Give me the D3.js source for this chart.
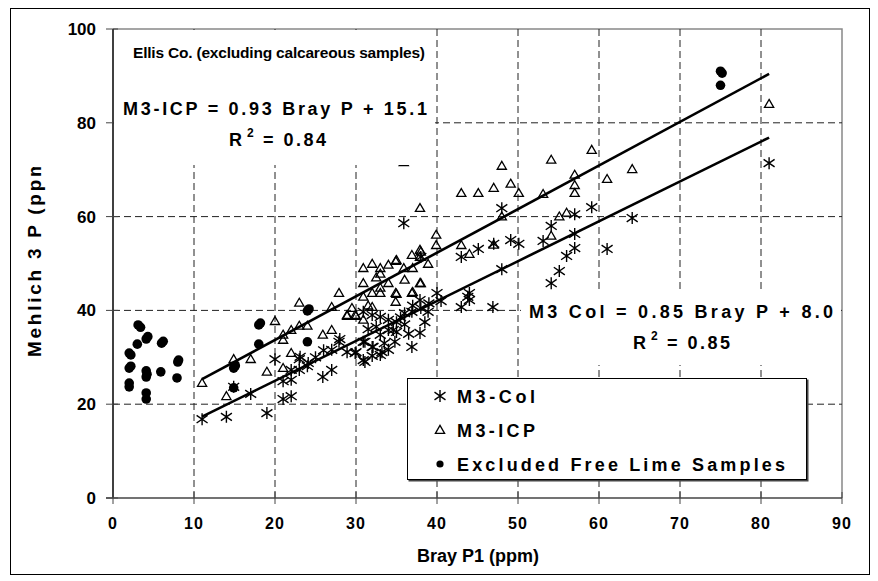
<!DOCTYPE html>
<html>
<head>
<meta charset="utf-8">
<script src="https://cdn.jsdelivr.net/npm/d3@7"></script>
<style>
  body { margin: 0; background: #fff; }
  svg text { font-family: "Liberation Sans", Arial, sans-serif; font-weight: bold; fill: #000; }
</style>
</head>
<body>
<svg id="chart" width="878" height="581"></svg>
<script>
// M3-Col (Bray P1, Mehlich 3 P)
const colBray = [11.0, 14.0, 19.0, 14.9, 17.0, 21.0, 22.0, 21.0, 20.0, 23.0, 24.0, 23.0, 22.0, 25.9, 27.0,
  27.9, 27.0, 28.9, 30.0, 30.9, 32.0, 33.0, 34.0, 32.0, 30.9, 33.0, 34.0, 34.0, 35.0, 33.0,
  32.0, 30.9, 36.0, 36.9, 35.0, 37.9, 36.9, 38.9, 37.9, 40.0, 44.0, 44.0, 43.0, 46.9, 48.0,
  43.0, 45.1, 47.0, 49.1, 50.1, 48.0, 35.9, 53.1, 54.1, 57.0, 59.1, 57.0, 57.0, 56.0, 55.1,
  54.1, 61.0, 64.1, 81.0, 38.0, 28.0, 29.9, 34.8, 34.6, 32.5, 36.0, 37.0, 38.0, 39.0, 35.5,
  31.5, 25.0, 26.0, 33.5, 36.5, 24.1, 23.1, 22.0, 40.5, 38.5, 43.8, 31.1, 32.1, 31.1, 33.2];
const colM3 = [16.8, 17.3, 18.1, 23.7, 22.2, 21.1, 21.7, 24.9, 29.6, 29.6, 28.1, 27.3, 25.2, 25.8, 27.3,
  33.3, 31.6, 31.1, 31.1, 29.4, 30.3, 30.5, 31.6, 32.2, 33.3, 34.8, 35.8, 38.0, 37.5, 38.6,
  39.0, 39.7, 39.4, 39.7, 35.4, 35.2, 32.2, 39.7, 42.2, 43.7, 43.7, 42.2, 40.7, 40.7, 48.8,
  51.4, 53.1, 54.2, 55.0, 54.2, 61.8, 58.6, 54.8, 58.0, 60.5, 62.0, 56.3, 53.3, 51.6, 48.4,
  45.8, 53.1, 59.7, 71.4, 51.4, 33.9, 30.9, 33.3, 35.8, 36.5, 37.0, 41.0, 40.5, 41.5, 38.5,
  36.0, 30.0, 31.5, 33.0, 35.0, 28.8, 30.1, 27.3, 42.0, 37.5, 42.9, 33.3, 32.2, 29.0, 31.1];

// M3-ICP
const icpBray = [11.0, 14.0, 14.9, 17.0, 20.0, 21.0, 21.0, 22.0, 23.0, 23.0, 24.0, 22.0, 21.0, 19.0, 25.9,
  27.0, 27.0, 27.9, 28.9, 30.0, 30.9, 32.0, 30.9, 34.0, 33.0, 34.9, 33.0, 34.9, 36.9, 37.9,
  30.9, 32.0, 30.9, 32.0, 33.0, 34.0, 34.9, 33.0, 35.9, 36.9, 37.9, 37.9, 38.9, 37.0, 37.9,
  35.9, 39.9, 39.9, 43.0, 44.0, 47.0, 43.0, 45.1, 47.0, 49.1, 50.1, 48.0, 54.1, 59.1, 53.1,
  57.0, 57.0, 57.0, 48.0, 55.1, 56.0, 54.1, 61.0, 64.1, 81.0, 28.9, 29.9, 35.0, 38.0, 37.0,
  35.0, 38.0, 36.0, 32.5, 31.5, 29.5];
const icpM3 = [24.5, 21.7, 29.6, 29.6, 37.7, 34.8, 33.7, 35.8, 36.7, 41.6, 36.7, 30.9, 27.7, 26.9, 34.8,
  35.8, 40.7, 43.7, 38.8, 38.8, 38.0, 40.7, 42.9, 45.8, 44.8, 43.7, 43.7, 41.8, 43.7, 45.8,
  45.8, 43.7, 49.0, 49.9, 49.0, 49.7, 50.5, 47.8, 49.0, 51.8, 52.9, 51.4, 49.9, 49.0, 61.8,
  71.6, 56.1, 53.9, 53.9, 52.0, 54.0, 65.0, 65.0, 66.1, 67.0, 65.0, 70.8, 72.1, 74.2, 64.8,
  68.9, 66.7, 65.0, 60.0, 60.0, 60.8, 55.9, 68.0, 70.1, 84.0, 39.0, 39.0, 50.7, 45.8, 43.9,
  43.5, 52.5, 46.5, 47.0, 41.0, 40.5];

// Excluded free lime samples
const limeBray = [3.1, 3.4, 4.1, 4.3, 3.0, 6.0, 6.2, 2.0, 2.2, 8.0, 8.1, 2.0, 2.2, 4.1, 4.1, 4.2, 5.9, 7.9,
  2.0, 2.0, 4.1, 4.1, 18.0, 18.2, 18.0, 14.9, 15.1, 14.9, 24.0, 24.2, 24.0, 75.0, 75.2, 75.0];
const limeM3 = [36.9, 36.4, 33.9, 34.4, 32.8, 33.0, 33.4, 30.9, 30.5, 29.0, 29.4, 27.7, 28.1, 27.1, 25.8, 26.4, 26.9, 25.6,
  24.5, 23.7, 22.4, 21.1, 36.9, 37.3, 32.8, 27.7, 28.2, 23.5, 39.9, 40.3, 33.3, 91.0, 90.6, 88.0];

// trend lines: slope, intercept, Bray range
const icpFit = [0.93, 15.1];
const colFit = [0.85, 8.0];
const fitRange = [11, 81];

const xTicks = [0, 10, 20, 30, 40, 50, 60, 70, 80, 90];
const yTicks = [0, 20, 40, 60, 80, 100];

const svg = d3.select("#chart");

const x = d3.scaleLinear().domain([0, 90]).range([113, 842]);
const y = d3.scaleLinear().domain([0, 100]).range([498, 29]);

// outer frame
svg.append("rect")
  .attr("x", 10.5).attr("y", 8.5)
  .attr("width", 859).attr("height", 566)
  .attr("fill", "#fff").attr("stroke", "#000");

// plot border (right & top grey)
svg.append("path")
  .attr("d", `M${x(0)},${y(100)}H${x(90)}V${y(0)}`)
  .attr("fill", "none").attr("stroke", "#888").attr("stroke-width", 1.5);

// grid
const grid = svg.append("g")
  .attr("stroke", "#222").attr("stroke-width", 1).attr("stroke-dasharray", "7,4");

grid.selectAll(".gx").data(xTicks.filter(d => d > 0 && d < 90)).join("line")
  .attr("x1", d => x(d)).attr("x2", d => x(d))
  .attr("y1", y(100)).attr("y2", y(0));

grid.selectAll(".gy").data(yTicks.filter(d => d > 0 && d < 100)).join("line")
  .attr("x1", x(0)).attr("x2", x(90))
  .attr("y1", d => y(d)).attr("y2", d => y(d));

// markers
const starPath = "M0,-6V6M-5.5,-3.8L5.5,3.8M-5.5,3.8L5.5,-3.8";
const triPath = "M0,-4.6L4.6,3.3L-4.6,3.3Z";

svg.append("g").selectAll("path").data(d3.range(colBray.length)).join("path")
  .attr("transform", i => `translate(${x(colBray[i])},${y(colM3[i])})`)
  .attr("d", starPath)
  .attr("fill", "none").attr("stroke", "#000").attr("stroke-width", 1.4);

svg.append("g").selectAll("path").data(d3.range(icpBray.length)).join("path")
  .attr("transform", i => `translate(${x(icpBray[i])},${y(icpM3[i])})`)
  .attr("d", triPath)
  .attr("fill", "none").attr("stroke", "#000").attr("stroke-width", 1.3);

svg.append("g").selectAll("circle").data(d3.range(limeBray.length)).join("circle")
  .attr("cx", i => x(limeBray[i])).attr("cy", i => y(limeM3[i]))
  .attr("r", 4.8).attr("fill", "#000");

// trend lines
[icpFit, colFit].forEach(f => {
  svg.append("line")
    .attr("x1", x(fitRange[0])).attr("y1", y(f[0] * fitRange[0] + f[1]))
    .attr("x2", x(fitRange[1])).attr("y2", y(f[0] * fitRange[1] + f[1]))
    .attr("stroke", "#000").attr("stroke-width", 2.6);
});

// axes
svg.append("line")
  .attr("x1", x(0)).attr("x2", x(0)).attr("y1", y(100)).attr("y2", y(0))
  .attr("stroke", "#000").attr("stroke-width", 1.5);
svg.append("line")
  .attr("x1", x(0) - 7).attr("x2", x(90)).attr("y1", y(0)).attr("y2", y(0))
  .attr("stroke", "#444").attr("stroke-width", 1.5);

svg.append("g").selectAll("line").data(yTicks).join("line")
  .attr("x1", x(0) - 7).attr("x2", x(0) + 5)
  .attr("y1", d => y(d)).attr("y2", d => y(d))
  .attr("stroke", "#444");
svg.append("g").selectAll("line").data(xTicks).join("line")
  .attr("x1", d => x(d)).attr("x2", d => x(d))
  .attr("y1", y(0) - 6).attr("y2", y(0) + 6)
  .attr("stroke", "#444");

svg.append("g").selectAll("text").data(yTicks).join("text")
  .attr("x", 96).attr("y", d => y(d) + 6)
  .attr("text-anchor", "end").attr("font-size", 17)
  .text(d => d);
svg.append("g").selectAll("text").data(xTicks).join("text")
  .attr("x", d => x(d)).attr("y", 529)
  .attr("text-anchor", "middle").attr("font-size", 16)
  .attr("letter-spacing", 1)
  .text(d => d);

svg.append("text")
  .attr("x", 478).attr("y", 562)
  .attr("text-anchor", "middle").attr("font-size", 18)
  .text("Bray P1 (ppm)");

svg.append("clipPath").attr("id", "ylab")
  .append("rect").attr("x", 0).attr("y", 167).attr("width", 100).attr("height", 300);
svg.append("g").attr("clip-path", "url(#ylab)")
  .append("text")
  .attr("transform", "translate(41,357) rotate(-90)")
  .attr("font-size", 19)
  .attr("textLength", 206).attr("lengthAdjust", "spacing")
  .text("Mehlich 3 P (ppm)");

// annotation boxes
svg.append("rect").attr("x", x(0) + 1).attr("y", 30).attr("width", 321).attr("height", 135).attr("fill", "#fff");
svg.append("rect").attr("x", 521).attr("y", 290).attr("width", 320).attr("height", 75).attr("fill", "#fff");

svg.append("text").attr("x", 133).attr("y", 58).attr("font-size", 15.5)
  .attr("textLength", 292).attr("lengthAdjust", "spacing")
  .text("Ellis Co. (excluding calcareous samples)");

svg.append("text").attr("x", 123).attr("y", 115).attr("font-size", 18)
  .attr("textLength", 304).attr("lengthAdjust", "spacing")
  .text("M3-ICP = 0.93 Bray P + 15.1");

function rSquared(x0, base, value) {
  svg.append("text").attr("x", x0).attr("y", base).attr("font-size", 18).text("R");
  svg.append("text").attr("x", x0 + 18).attr("y", base - 9).attr("font-size", 12).text("2");
  svg.append("text").attr("x", x0 + 34).attr("y", base).attr("font-size", 18)
    .attr("textLength", 63).attr("lengthAdjust", "spacing")
    .text("= " + value);
}
rSquared(229, 146, "0.84");

svg.append("text").attr("x", 529).attr("y", 318).attr("font-size", 18)
  .attr("textLength", 304).attr("lengthAdjust", "spacing")
  .text("M3 Col = 0.85 Bray P + 8.0");
rSquared(633, 349, "0.85");

// legend
const legend = svg.append("g");
legend.append("rect").attr("x", 408.5).attr("y", 379.5).attr("width", 400).attr("height", 102)
  .attr("fill", "#444");
legend.append("rect").attr("x", 407.5).attr("y", 378.5).attr("width", 399).attr("height", 101)
  .attr("fill", "#fff").attr("stroke", "#000");

const legendNames = ["M3-Col", "M3-ICP", "Excluded Free Lime Samples"];
const legendLens = [78, 78, 328];
const ly = d3.scalePoint().domain(legendNames).range([396, 464]);

legend.append("path").attr("transform", `translate(440,${ly(legendNames[0])})`)
  .attr("d", starPath).attr("fill", "none").attr("stroke", "#000").attr("stroke-width", 1.4);
legend.append("path").attr("transform", `translate(440,${ly(legendNames[1])})`)
  .attr("d", triPath).attr("fill", "none").attr("stroke", "#000").attr("stroke-width", 1.3);
legend.append("circle").attr("cx", 440).attr("cy", ly(legendNames[2])).attr("r", 3.6).attr("fill", "#000");

legend.selectAll("text").data(legendNames).join("text")
  .attr("x", 457).attr("y", d => ly(d) + 6.5)
  .attr("font-size", 18)
  .attr("textLength", (d, i) => legendLens[i]).attr("lengthAdjust", "spacing")
  .text(d => d);
</script>
</body>
</html>
